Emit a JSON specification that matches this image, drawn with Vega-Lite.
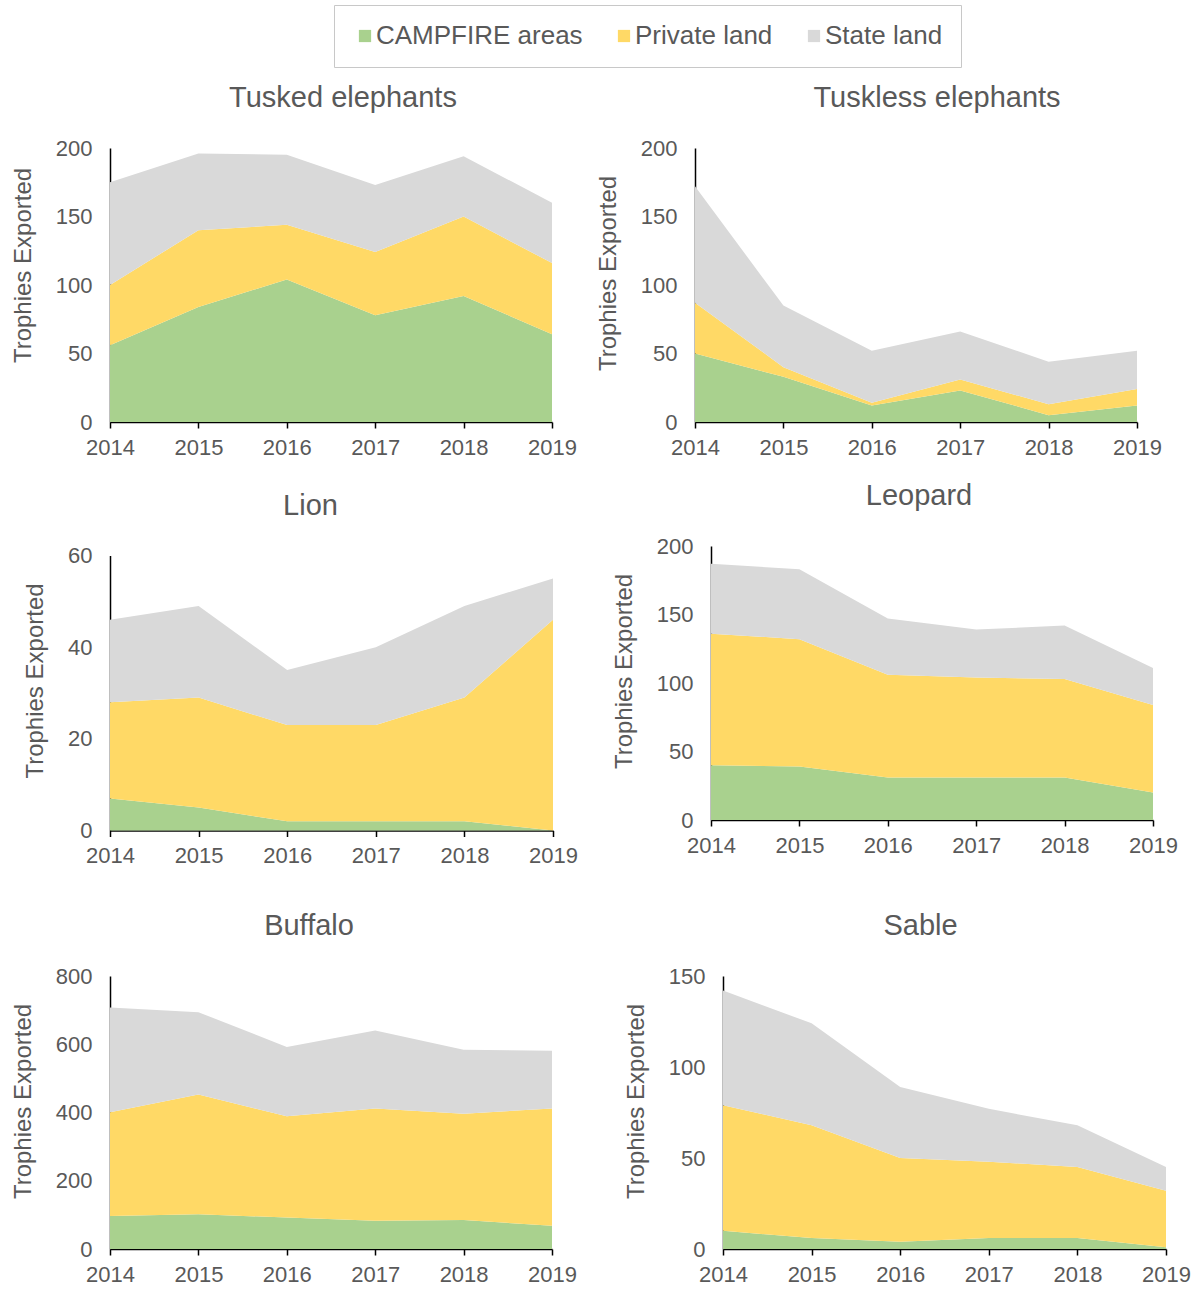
{
  "$schema": "https://vega.github.io/schema/vega-lite/v6.json",
  "padding": {"left": 11, "top": 4, "right": 5, "bottom": 0},
  "background": "#ffffff",
  "data": {"values": [
    {"species": "Tusked elephants", "year": 2014, "land": "CAMPFIRE areas", "value": 56},
    {"species": "Tusked elephants", "year": 2015, "land": "CAMPFIRE areas", "value": 84},
    {"species": "Tusked elephants", "year": 2016, "land": "CAMPFIRE areas", "value": 104},
    {"species": "Tusked elephants", "year": 2017, "land": "CAMPFIRE areas", "value": 78},
    {"species": "Tusked elephants", "year": 2018, "land": "CAMPFIRE areas", "value": 92},
    {"species": "Tusked elephants", "year": 2019, "land": "CAMPFIRE areas", "value": 64},
    {"species": "Tusked elephants", "year": 2014, "land": "Private land", "value": 44},
    {"species": "Tusked elephants", "year": 2015, "land": "Private land", "value": 56},
    {"species": "Tusked elephants", "year": 2016, "land": "Private land", "value": 40},
    {"species": "Tusked elephants", "year": 2017, "land": "Private land", "value": 46},
    {"species": "Tusked elephants", "year": 2018, "land": "Private land", "value": 58},
    {"species": "Tusked elephants", "year": 2019, "land": "Private land", "value": 52},
    {"species": "Tusked elephants", "year": 2014, "land": "State land", "value": 75},
    {"species": "Tusked elephants", "year": 2015, "land": "State land", "value": 56},
    {"species": "Tusked elephants", "year": 2016, "land": "State land", "value": 51},
    {"species": "Tusked elephants", "year": 2017, "land": "State land", "value": 49},
    {"species": "Tusked elephants", "year": 2018, "land": "State land", "value": 44},
    {"species": "Tusked elephants", "year": 2019, "land": "State land", "value": 44},

    {"species": "Tuskless elephants", "year": 2014, "land": "CAMPFIRE areas", "value": 50},
    {"species": "Tuskless elephants", "year": 2015, "land": "CAMPFIRE areas", "value": 33},
    {"species": "Tuskless elephants", "year": 2016, "land": "CAMPFIRE areas", "value": 12},
    {"species": "Tuskless elephants", "year": 2017, "land": "CAMPFIRE areas", "value": 23},
    {"species": "Tuskless elephants", "year": 2018, "land": "CAMPFIRE areas", "value": 5},
    {"species": "Tuskless elephants", "year": 2019, "land": "CAMPFIRE areas", "value": 12},
    {"species": "Tuskless elephants", "year": 2014, "land": "Private land", "value": 37},
    {"species": "Tuskless elephants", "year": 2015, "land": "Private land", "value": 7},
    {"species": "Tuskless elephants", "year": 2016, "land": "Private land", "value": 2},
    {"species": "Tuskless elephants", "year": 2017, "land": "Private land", "value": 8},
    {"species": "Tuskless elephants", "year": 2018, "land": "Private land", "value": 8},
    {"species": "Tuskless elephants", "year": 2019, "land": "Private land", "value": 12},
    {"species": "Tuskless elephants", "year": 2014, "land": "State land", "value": 85},
    {"species": "Tuskless elephants", "year": 2015, "land": "State land", "value": 45},
    {"species": "Tuskless elephants", "year": 2016, "land": "State land", "value": 38},
    {"species": "Tuskless elephants", "year": 2017, "land": "State land", "value": 35},
    {"species": "Tuskless elephants", "year": 2018, "land": "State land", "value": 31},
    {"species": "Tuskless elephants", "year": 2019, "land": "State land", "value": 28},

    {"species": "Lion", "year": 2014, "land": "CAMPFIRE areas", "value": 7},
    {"species": "Lion", "year": 2015, "land": "CAMPFIRE areas", "value": 5},
    {"species": "Lion", "year": 2016, "land": "CAMPFIRE areas", "value": 2},
    {"species": "Lion", "year": 2017, "land": "CAMPFIRE areas", "value": 2},
    {"species": "Lion", "year": 2018, "land": "CAMPFIRE areas", "value": 2},
    {"species": "Lion", "year": 2019, "land": "CAMPFIRE areas", "value": 0},
    {"species": "Lion", "year": 2014, "land": "Private land", "value": 21},
    {"species": "Lion", "year": 2015, "land": "Private land", "value": 24},
    {"species": "Lion", "year": 2016, "land": "Private land", "value": 21},
    {"species": "Lion", "year": 2017, "land": "Private land", "value": 21},
    {"species": "Lion", "year": 2018, "land": "Private land", "value": 27},
    {"species": "Lion", "year": 2019, "land": "Private land", "value": 46},
    {"species": "Lion", "year": 2014, "land": "State land", "value": 18},
    {"species": "Lion", "year": 2015, "land": "State land", "value": 20},
    {"species": "Lion", "year": 2016, "land": "State land", "value": 12},
    {"species": "Lion", "year": 2017, "land": "State land", "value": 17},
    {"species": "Lion", "year": 2018, "land": "State land", "value": 20},
    {"species": "Lion", "year": 2019, "land": "State land", "value": 9},

    {"species": "Leopard", "year": 2014, "land": "CAMPFIRE areas", "value": 40},
    {"species": "Leopard", "year": 2015, "land": "CAMPFIRE areas", "value": 39},
    {"species": "Leopard", "year": 2016, "land": "CAMPFIRE areas", "value": 31},
    {"species": "Leopard", "year": 2017, "land": "CAMPFIRE areas", "value": 31},
    {"species": "Leopard", "year": 2018, "land": "CAMPFIRE areas", "value": 31},
    {"species": "Leopard", "year": 2019, "land": "CAMPFIRE areas", "value": 20},
    {"species": "Leopard", "year": 2014, "land": "Private land", "value": 96},
    {"species": "Leopard", "year": 2015, "land": "Private land", "value": 93},
    {"species": "Leopard", "year": 2016, "land": "Private land", "value": 75},
    {"species": "Leopard", "year": 2017, "land": "Private land", "value": 73},
    {"species": "Leopard", "year": 2018, "land": "Private land", "value": 72},
    {"species": "Leopard", "year": 2019, "land": "Private land", "value": 64},
    {"species": "Leopard", "year": 2014, "land": "State land", "value": 51},
    {"species": "Leopard", "year": 2015, "land": "State land", "value": 51},
    {"species": "Leopard", "year": 2016, "land": "State land", "value": 41},
    {"species": "Leopard", "year": 2017, "land": "State land", "value": 35},
    {"species": "Leopard", "year": 2018, "land": "State land", "value": 39},
    {"species": "Leopard", "year": 2019, "land": "State land", "value": 27},

    {"species": "Buffalo", "year": 2014, "land": "CAMPFIRE areas", "value": 97},
    {"species": "Buffalo", "year": 2015, "land": "CAMPFIRE areas", "value": 102},
    {"species": "Buffalo", "year": 2016, "land": "CAMPFIRE areas", "value": 92},
    {"species": "Buffalo", "year": 2017, "land": "CAMPFIRE areas", "value": 83},
    {"species": "Buffalo", "year": 2018, "land": "CAMPFIRE areas", "value": 85},
    {"species": "Buffalo", "year": 2019, "land": "CAMPFIRE areas", "value": 68},
    {"species": "Buffalo", "year": 2014, "land": "Private land", "value": 304},
    {"species": "Buffalo", "year": 2015, "land": "Private land", "value": 351},
    {"species": "Buffalo", "year": 2016, "land": "Private land", "value": 297},
    {"species": "Buffalo", "year": 2017, "land": "Private land", "value": 329},
    {"species": "Buffalo", "year": 2018, "land": "Private land", "value": 311},
    {"species": "Buffalo", "year": 2019, "land": "Private land", "value": 344},
    {"species": "Buffalo", "year": 2014, "land": "State land", "value": 307},
    {"species": "Buffalo", "year": 2015, "land": "State land", "value": 241},
    {"species": "Buffalo", "year": 2016, "land": "State land", "value": 203},
    {"species": "Buffalo", "year": 2017, "land": "State land", "value": 228},
    {"species": "Buffalo", "year": 2018, "land": "State land", "value": 188},
    {"species": "Buffalo", "year": 2019, "land": "State land", "value": 169},

    {"species": "Sable", "year": 2014, "land": "CAMPFIRE areas", "value": 10},
    {"species": "Sable", "year": 2015, "land": "CAMPFIRE areas", "value": 6},
    {"species": "Sable", "year": 2016, "land": "CAMPFIRE areas", "value": 4},
    {"species": "Sable", "year": 2017, "land": "CAMPFIRE areas", "value": 6},
    {"species": "Sable", "year": 2018, "land": "CAMPFIRE areas", "value": 6},
    {"species": "Sable", "year": 2019, "land": "CAMPFIRE areas", "value": 1},
    {"species": "Sable", "year": 2014, "land": "Private land", "value": 69},
    {"species": "Sable", "year": 2015, "land": "Private land", "value": 62},
    {"species": "Sable", "year": 2016, "land": "Private land", "value": 46},
    {"species": "Sable", "year": 2017, "land": "Private land", "value": 42},
    {"species": "Sable", "year": 2018, "land": "Private land", "value": 39},
    {"species": "Sable", "year": 2019, "land": "Private land", "value": 31},
    {"species": "Sable", "year": 2014, "land": "State land", "value": 63},
    {"species": "Sable", "year": 2015, "land": "State land", "value": 56},
    {"species": "Sable", "year": 2016, "land": "State land", "value": 39},
    {"species": "Sable", "year": 2017, "land": "State land", "value": 29},
    {"species": "Sable", "year": 2018, "land": "State land", "value": 23},
    {"species": "Sable", "year": 2019, "land": "State land", "value": 13}
  ]},
  "concat": [
    {
      "hconcat": [
        {
          "title": {"text": "Tusked elephants", "dx": 12},
          "width": 442, "height": 274,
          "transform": [{"filter": "datum.species === 'Tusked elephants'"}],
          "mark": {"type": "area"},
          "encoding": {
            "x": {"field": "year", "type": "quantitative", "scale": {"domain": [2014, 2019], "nice": false, "zero": false}, "axis": {"values": [2014, 2015, 2016, 2017, 2018, 2019], "format": "d", "title": null}},
            "y": {"field": "value", "type": "quantitative", "stack": "zero", "scale": {"domain": [0, 200], "nice": false}, "axis": {"values": [0, 50, 100, 150, 200], "title": "Trophies Exported", "titleY": 117}},
            "order": {"field": "land", "sort": "ascending"},
            "color": {"field": "land", "type": "nominal", "scale": {"domain": ["CAMPFIRE areas", "Private land", "State land"], "range": ["#a9d18e", "#ffd966", "#d9d9d9"]}, "legend": {"orient": "none", "direction": "horizontal", "legendX": 224, "legendY": -143, "title": null}}
          }
        },
        {
          "title": {"text": "Tuskless elephants", "dx": 21},
          "width": 442, "height": 274,
          "transform": [{"filter": "datum.species === 'Tuskless elephants'"}],
          "mark": {"type": "area"},
          "encoding": {
            "x": {"field": "year", "type": "quantitative", "scale": {"domain": [2014, 2019], "nice": false, "zero": false}, "axis": {"values": [2014, 2015, 2016, 2017, 2018, 2019], "format": "d", "title": null}},
            "y": {"field": "value", "type": "quantitative", "stack": "zero", "scale": {"domain": [0, 200], "nice": false}, "axis": {"values": [0, 50, 100, 150, 200], "title": "Trophies Exported"}},
            "order": {"field": "land", "sort": "ascending"},
            "color": {"field": "land", "type": "nominal", "scale": {"domain": ["CAMPFIRE areas", "Private land", "State land"], "range": ["#a9d18e", "#ffd966", "#d9d9d9"]}, "legend": {"orient": "none", "direction": "horizontal", "legendX": 224, "legendY": -143, "title": null}}
          }
        }
      ],
      "spacing": 19
    },
    {
      "concat": [
        {
          "hconcat": [
            {
              "title": {"text": "Lion", "dx": -21},
              "width": 443, "height": 275,
              "transform": [{"filter": "datum.species === 'Lion'"}],
              "mark": {"type": "area"},
              "encoding": {
                "x": {"field": "year", "type": "quantitative", "scale": {"domain": [2014, 2019], "nice": false, "zero": false}, "axis": {"values": [2014, 2015, 2016, 2017, 2018, 2019], "format": "d", "title": null}},
                "y": {"field": "value", "type": "quantitative", "stack": "zero", "scale": {"domain": [0, 60], "nice": false}, "axis": {"values": [0, 20, 40, 60], "title": "Trophies Exported"}},
                "order": {"field": "land", "sort": "ascending"},
                "color": {"field": "land", "type": "nominal", "scale": {"domain": ["CAMPFIRE areas", "Private land", "State land"], "range": ["#a9d18e", "#ffd966", "#d9d9d9"]}, "legend": {"orient": "none", "direction": "horizontal", "legendX": 224, "legendY": -143, "title": null}}
              }
            },
            {
              "title": {"text": "Leopard", "dx": -13},
              "width": 442, "height": 274,
              "transform": [{"filter": "datum.species === 'Leopard'"}],
              "mark": {"type": "area"},
              "encoding": {
                "x": {"field": "year", "type": "quantitative", "scale": {"domain": [2014, 2019], "nice": false, "zero": false}, "axis": {"values": [2014, 2015, 2016, 2017, 2018, 2019], "format": "d", "title": "\u00a0", "titleFontSize": 16, "titlePadding": 4}},
                "y": {"field": "value", "type": "quantitative", "stack": "zero", "scale": {"domain": [0, 200], "nice": false}, "axis": {"values": [0, 50, 100, 150, 200], "title": "Trophies Exported"}},
                "order": {"field": "land", "sort": "ascending"},
                "color": {"field": "land", "type": "nominal", "scale": {"domain": ["CAMPFIRE areas", "Private land", "State land"], "range": ["#a9d18e", "#ffd966", "#d9d9d9"]}, "legend": {"orient": "none", "direction": "horizontal", "legendX": 224, "legendY": -143, "title": null}}
              }
            }
          ],
          "spacing": 34,
          "center": true
        },
        {
          "hconcat": [
            {
              "title": {"text": "Buffalo", "dx": -22},
              "width": 442, "height": 273,
              "transform": [{"filter": "datum.species === 'Buffalo'"}],
              "mark": {"type": "area"},
              "encoding": {
                "x": {"field": "year", "type": "quantitative", "scale": {"domain": [2014, 2019], "nice": false, "zero": false}, "axis": {"values": [2014, 2015, 2016, 2017, 2018, 2019], "format": "d", "title": null}},
                "y": {"field": "value", "type": "quantitative", "stack": "zero", "scale": {"domain": [0, 800], "nice": false}, "axis": {"values": [0, 200, 400, 600, 800], "title": "Trophies Exported"}},
                "order": {"field": "land", "sort": "ascending"},
                "color": {"field": "land", "type": "nominal", "scale": {"domain": ["CAMPFIRE areas", "Private land", "State land"], "range": ["#a9d18e", "#ffd966", "#d9d9d9"]}, "legend": {"orient": "none", "direction": "horizontal", "legendX": 224, "legendY": -143, "title": null}}
              }
            },
            {
              "title": {"text": "Sable", "dx": -24},
              "width": 443, "height": 273,
              "transform": [{"filter": "datum.species === 'Sable'"}],
              "mark": {"type": "area"},
              "encoding": {
                "x": {"field": "year", "type": "quantitative", "scale": {"domain": [2014, 2019], "nice": false, "zero": false}, "axis": {"values": [2014, 2015, 2016, 2017, 2018, 2019], "format": "d", "title": null}},
                "y": {"field": "value", "type": "quantitative", "stack": "zero", "scale": {"domain": [0, 150], "nice": false}, "axis": {"values": [0, 50, 100, 150], "title": "Trophies Exported"}},
                "order": {"field": "land", "sort": "ascending"},
                "color": {"field": "land", "type": "nominal", "scale": {"domain": ["CAMPFIRE areas", "Private land", "State land"], "range": ["#a9d18e", "#ffd966", "#d9d9d9"]}, "legend": {"orient": "none", "direction": "horizontal", "legendX": 224, "legendY": -143, "title": null}}
              }
            }
          ],
          "spacing": 47
        }
      ],
      "columns": 1,
      "spacing": 36,
      "align": "none"
    }
  ],
  "columns": 1,
  "spacing": 24,
  "align": "none",
  "config": {
    "font": "Liberation Sans",
    "view": {"stroke": null},
    "area": {"line": false, "opacity": 1},
    "axis": {
      "grid": false,
      "domainColor": "#000000",
      "domainWidth": 1.5,
      "labelColor": "#595959",
      "labelFontSize": 22,
      "labelFont": "Liberation Sans",
      "titleColor": "#595959",
      "titleFontSize": 24,
      "titleFontWeight": "normal",
      "titleFont": "Liberation Sans",
      "tickColor": "#000000"
    },
    "axisX": {"tickSize": 6, "tickWidth": 1.5, "labelPadding": 9, "labelFlush": false, "labelOverlap": false},
    "axisY": {"ticks": false, "labelPadding": 18, "titlePadding": 20, "titleY": 125},
    "title": {"fontSize": 29, "fontWeight": "normal", "color": "#595959", "font": "Liberation Sans", "offset": 24, "frame": "group", "anchor": "middle"},
    "legend": {
      "labelFontSize": 26,
      "labelColor": "#595959",
      "labelFont": "Liberation Sans",
      "symbolType": "square",
      "symbolSize": 150,
      "symbolStrokeWidth": 0,
      "symbolOffset": 0,
      "labelOffset": -2,
      "columnPadding": 28,
      "padding": 18,
      "strokeColor": "#c8c8c8",
      "fillColor": "#ffffff",
      "labelLimit": 400
    }
  }
}
